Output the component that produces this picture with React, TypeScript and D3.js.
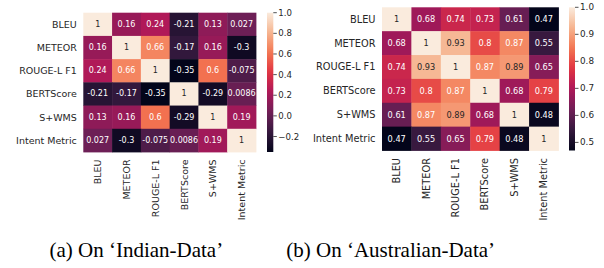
import React from "react";
import * as d3 from "d3";

// metric names (rows and columns)
const metrics = ["BLEU", "METEOR", "ROUGE-L F1", "BERTScore", "S+WMS", "Intent Metric"];

// correlation matrices
const indianCorr = [
  [1, 0.16, 0.24, -0.21, 0.13, 0.027],
  [0.16, 1, 0.66, -0.17, 0.16, -0.3],
  [0.24, 0.66, 1, -0.35, 0.6, -0.075],
  [-0.21, -0.17, -0.35, 1, -0.29, 0.0086],
  [0.13, 0.16, 0.6, -0.29, 1, 0.19],
  [0.027, -0.3, -0.075, 0.0086, 0.19, 1],
];
const australianCorr = [
  [1, 0.68, 0.74, 0.73, 0.61, 0.47],
  [0.68, 1, 0.93, 0.8, 0.87, 0.55],
  [0.74, 0.93, 1, 0.87, 0.89, 0.65],
  [0.73, 0.8, 0.87, 1, 0.68, 0.79],
  [0.61, 0.87, 0.89, 0.68, 1, 0.48],
  [0.47, 0.55, 0.65, 0.79, 0.48, 1],
];

// colorbar ticks
const indianTicks = [1.0, 0.8, 0.6, 0.4, 0.2, 0.0, -0.2];
const australianTicks = [1.0, 0.9, 0.8, 0.7, 0.6, 0.5];

const captions = ["(a) On \u2018Indian-Data\u2019", "(b) On \u2018Australian-Data\u2019"];

// seaborn "rocket" approximated with sampled stops
const rocketStops = ["#03051a", "#35193e", "#701f57", "#ad1759", "#e13342", "#f37651", "#f6b48f", "#faebdd"];
const rocket = d3
  .scaleLinear<string>()
  .domain(rocketStops.map((_, i) => i / (rocketStops.length - 1)))
  .range(rocketStops)
  .interpolate(d3.interpolateRgb)
  .clamp(true);

const labelColor = "#262626";
const sansFont = "DejaVu Sans, sans-serif";

// same rule seaborn uses to pick annotation colour
const luminance = (c: string) => {
  const rgb = d3.rgb(c);
  const lin = [rgb.r, rgb.g, rgb.b].map((v) => {
    const s = v / 255;
    return s <= 0.03928 ? s / 12.92 : Math.pow((s + 0.055) / 1.055, 2.4);
  });
  return 0.2126 * lin[0] + 0.7152 * lin[1] + 0.0722 * lin[2];
};

const fmtTick = (v: number) => d3.format(".1f")(v).replace("-", "\u2212");

type PanelProps = {
  id: string;
  data: number[][];
  ticks: number[];
  caption: string;
  gx: number; gy: number; gw: number; gh: number;
  cbx: number; cbw: number;
  fs: number; annotFs: number; tickFs: number;
  captionX: number;
};

const Panel = (p: PanelProps) => {
  const flat = p.data.flat();
  const vmin = d3.min(flat) as number;
  const vmax = d3.max(flat) as number;
  const norm = d3.scaleLinear().domain([vmin, vmax]).range([0, 1]);
  const color = (v: number) => rocket(norm(v));

  const x = d3.scaleBand().domain(metrics).range([p.gx, p.gx + p.gw]);
  const y = d3.scaleBand().domain(metrics).range([p.gy, p.gy + p.gh]);
  const cb = d3.scaleLinear().domain([vmin, vmax]).range([p.gy + p.gh, p.gy]);

  const cells = p.data.flatMap((row, i) =>
    row.map((v, j) => ({ r: metrics[i], c: metrics[j], v }))
  );
  const gradStops = d3.range(0, 1.0001, 0.05);

  return (
    <g>
      <defs>
        <linearGradient id={p.id} x1="0" y1="1" x2="0" y2="0">
          {gradStops.map((t) => (
            <stop key={t} offset={t} stopColor={rocket(t)} />
          ))}
        </linearGradient>
      </defs>
      {cells.map((d) => (
        <rect
          key={d.r + d.c}
          x={x(d.c)}
          y={y(d.r)}
          width={x.bandwidth() + 0.4}
          height={y.bandwidth() + 0.4}
          fill={color(d.v)}
        />
      ))}
      {cells.map((d) => {
        const fill = color(d.v);
        return (
          <text
            key={"t" + d.r + d.c}
            x={(x(d.c) as number) + x.bandwidth() / 2}
            y={(y(d.r) as number) + y.bandwidth() / 2}
            textAnchor="middle"
            dominantBaseline="central"
            fontFamily={sansFont}
            fontSize={p.annotFs}
            fill={luminance(fill) > 0.408 ? labelColor : "white"}
          >
            {String(d.v)}
          </text>
        );
      })}
      {metrics.map((m) => (
        <text
          key={"row" + m}
          x={p.gx - 6.5}
          y={(y(m) as number) + y.bandwidth() / 2}
          textAnchor="end"
          dominantBaseline="central"
          fontFamily={sansFont}
          fontSize={p.fs}
          fill={labelColor}
        >
          {m}
        </text>
      ))}
      {metrics.map((m) => {
        const cx = (x(m) as number) + x.bandwidth() / 2;
        const ty = p.gy + p.gh + 7.5;
        return (
          <text
            key={"col" + m}
            transform={`translate(${cx},${ty}) rotate(-90)`}
            textAnchor="end"
            dominantBaseline="central"
            fontFamily={sansFont}
            fontSize={p.fs}
            fill={labelColor}
          >
            {m}
          </text>
        );
      })}
      <rect x={p.cbx} y={p.gy} width={p.cbw} height={p.gh} fill={`url(#${p.id})`} />
      {p.ticks.map((t) => (
        <g key={"cb" + t} transform={`translate(${p.cbx + p.cbw},${cb(t)})`}>
          <line x1={0} x2={3.5} stroke={labelColor} strokeWidth={0.8} />
          <text
            x={5}
            dominantBaseline="central"
            fontFamily={sansFont}
            fontSize={p.tickFs}
            fill={labelColor}
          >
            {fmtTick(t)}
          </text>
        </g>
      ))}
      <text
        x={p.captionX}
        y={257}
        textAnchor="middle"
        fontFamily="Liberation Serif, Times New Roman, serif"
        fontSize={21}
        fill="black"
      >
        {p.caption}
      </text>
    </g>
  );
};

const App = () => (
  <svg
    width={604}
    height={268}
    style={{ position: "absolute", left: 0, top: 0, background: "white" }}
  >
    <rect width={604} height={268} fill="white" />
    <Panel
      id="cbA"
      data={indianCorr}
      ticks={indianTicks}
      caption={captions[0]}
      gx={83.3} gy={12.7} gw={172.7} gh={139.3}
      cbx={267} cbw={6.3}
      fs={9.5} annotFs={8} tickFs={8.6}
      captionX={136.3}
    />
    <Panel
      id="cbB"
      data={australianCorr}
      ticks={australianTicks}
      caption={captions[1]}
      gx={382} gy={7.3} gw={176.5} gh={143.2}
      cbx={569} cbw={6}
      fs={9.8} annotFs={8.2} tickFs={8.8}
      captionX={390.7}
    />
  </svg>
);

export default App;
